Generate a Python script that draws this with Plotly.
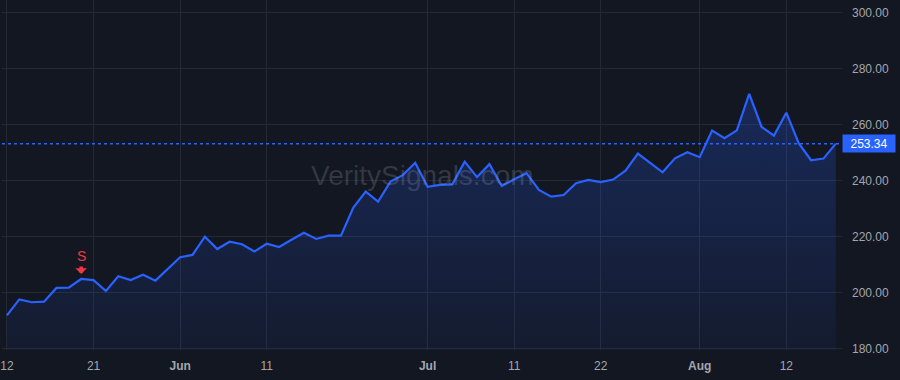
import plotly.graph_objects as go

# ---- data ----
dates = [
    "2025-05-12", "2025-05-13", "2025-05-14", "2025-05-15", "2025-05-16",
    "2025-05-19", "2025-05-20", "2025-05-21", "2025-05-22", "2025-05-23",
    "2025-05-27", "2025-05-28", "2025-05-29", "2025-05-30",
    "2025-06-02", "2025-06-03", "2025-06-04", "2025-06-05", "2025-06-06",
    "2025-06-09", "2025-06-10", "2025-06-11", "2025-06-12", "2025-06-13",
    "2025-06-16", "2025-06-17", "2025-06-18", "2025-06-20",
    "2025-06-23", "2025-06-24", "2025-06-25", "2025-06-26", "2025-06-27",
    "2025-06-30", "2025-07-01", "2025-07-02", "2025-07-03",
    "2025-07-07", "2025-07-08", "2025-07-09", "2025-07-10", "2025-07-11",
    "2025-07-14", "2025-07-15", "2025-07-16", "2025-07-17", "2025-07-18",
    "2025-07-21", "2025-07-22", "2025-07-23", "2025-07-24", "2025-07-25",
    "2025-07-28", "2025-07-29", "2025-07-30", "2025-07-31", "2025-08-01",
    "2025-08-04", "2025-08-05", "2025-08-06", "2025-08-07", "2025-08-08",
    "2025-08-11", "2025-08-12", "2025-08-13", "2025-08-14", "2025-08-15",
    "2025-08-18",
]

prices = [
    192.0, 197.7, 196.7, 196.9, 201.8, 201.9, 205.0, 204.6, 200.7, 206.0,
    204.6, 206.5, 204.4, 208.5, 212.8, 213.6, 220.1, 215.7, 218.3, 217.4,
    214.8, 217.6, 216.4, 219.0, 221.5, 219.3, 220.5, 220.5, 230.5, 236.2,
    232.6, 239.8, 242.1, 246.5, 237.9, 238.6, 238.8, 246.9, 241.4, 246.0,
    238.2, 240.6, 242.8, 236.8, 234.4, 235.0, 239.2, 240.4, 239.6, 240.5,
    243.7, 249.8, 246.3, 243.1, 248.1, 250.3, 248.5, 258.0, 255.3, 258.1,
    271.1, 259.3, 256.2, 264.4, 253.5, 247.4, 248.0, 253.34,
]

last_price = 253.34

x_tick_dates = ["2025-05-12", "2025-05-21", "2025-06-02", "2025-06-11",
                "2025-07-01", "2025-07-11", "2025-07-22", "2025-08-01",
                "2025-08-12"]
x_tick_labels = ["12", "21", "<b>Jun</b>", "11", "<b>Jul</b>", "11", "22",
                 "<b>Aug</b>", "12"]

y_ticks = [180, 200, 220, 240, 260, 280, 300]
y_tick_labels = [f"{v:.2f}" for v in y_ticks]

signal_date = "2025-05-20"
signal_label = "S"
watermark = "VeritySignals.com"

# ---- styles ----
BG = "#131722"
GRID = "#252936"
BLUE = "#2962FF"
TEXT = "#a3a6af"
RED = "#f23645"
FONT = "Liberation Sans, Arial, sans-serif"

fig = go.Figure()

fig.add_trace(go.Scatter(
    x=dates, y=prices, mode="lines",
    line=dict(color=BLUE, width=2.2),
    fill="tozeroy",
    fillgradient=dict(
        type="vertical",
        start=180, stop=272,
        colorscale=[[0, "rgba(41,98,255,0.06)"], [1, "rgba(41,98,255,0.25)"]],
    ),
    hoverinfo="skip",
    showlegend=False,
))

sig_idx = dates.index(signal_date)

fig.add_annotation(
    x=signal_date, y=prices[sig_idx], xref="x", yref="y",
    text="", showarrow=True, ax=0, ay=-14,
    arrowhead=1, arrowsize=0.55, arrowwidth=3.5, arrowcolor=RED, standoff=5,
)
fig.add_annotation(
    x=signal_date, y=prices[sig_idx], xref="x", yref="y",
    text=signal_label, showarrow=False, yshift=23,
    font=dict(color=RED, size=14, family=FONT),
)

# watermark
fig.add_annotation(
    x=0.5, y=0.5, xref="paper", yref="paper",
    text=watermark, showarrow=False,
    font=dict(color="rgba(150,155,170,0.25)", size=28, family=FONT),
)

# last price line + label
fig.add_shape(
    type="line", xref="paper", x0=0, x1=1, yref="y", y0=last_price, y1=last_price,
    line=dict(color=BLUE, width=1.5, dash="dot"),
)
fig.add_annotation(
    x=1, y=last_price, xref="paper", yref="y", xanchor="left",
    text=f"{last_price:.2f}", showarrow=False,
    bgcolor=BLUE, width=52, height=17, borderpad=0,
    font=dict(color="#ffffff", size=12, family=FONT),
)

fig.update_layout(
    width=900, height=380,
    margin=dict(l=0, r=58, t=0, b=30),
    paper_bgcolor=BG, plot_bgcolor=BG,
    font=dict(family=FONT, size=12, color=TEXT),
    xaxis=dict(
        type="category",
        range=[-0.4, 67.5],
        tickmode="array", tickvals=x_tick_dates, ticktext=x_tick_labels,
        showgrid=True, gridcolor=GRID, gridwidth=1,
        zeroline=False, showline=False, ticks="",
        ticklabelstandoff=7,
        tickfont=dict(color=TEXT, size=12),
        fixedrange=True,
    ),
    yaxis=dict(
        side="right",
        range=[179.64, 304.64],
        tickmode="array", tickvals=y_ticks, ticktext=y_tick_labels,
        showgrid=True, gridcolor=GRID, gridwidth=1,
        zeroline=False, showline=False, ticks="",
        ticklabelstandoff=9,
        tickfont=dict(color=TEXT, size=12),
        fixedrange=True,
    ),
    hovermode=False,
)

fig.write_html("out.html")
